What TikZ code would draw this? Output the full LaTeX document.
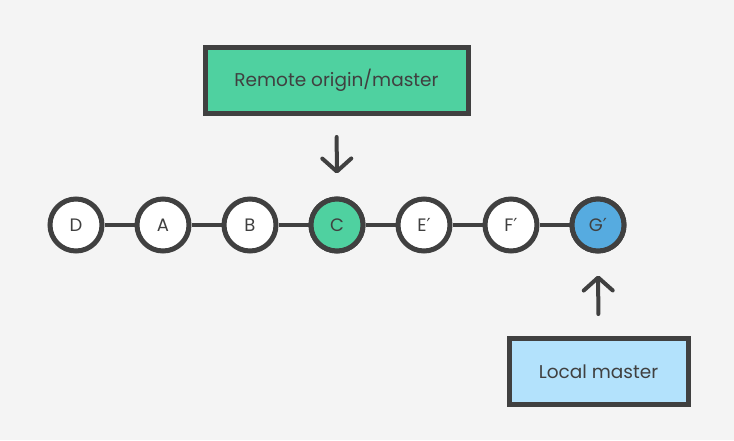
\documentclass[tikz,border=0pt]{standalone}
\usepackage{fontspec}
\setmainfont{Poppins}
\newfontfamily\primefont{DejaVu Sans}
\usetikzlibrary{arrows.meta}

\definecolor{bggray}{HTML}{F4F4F4}
\definecolor{ink}{HTML}{404040}
\definecolor{remotegreen}{HTML}{4FD1A0}
\definecolor{localblue}{HTML}{56ABE0}
\definecolor{paleblue}{HTML}{B3E2FC}

\newcommand{\pr}{{\primefont ′}}

\tikzset{
  commit/.style={circle, draw=ink, line width=5pt, fill=white, minimum size=52pt,
    inner sep=0pt, text=ink, font=\fontsize{18}{20}\selectfont},
  branchbox/.style={rectangle, draw=ink, line width=5pt, inner sep=0pt,
    minimum height=66pt, text=ink, font=\fontsize{18.5}{21}\selectfont},
  link/.style={draw=ink, line width=4.5pt},
  pointer/.style={draw=ink, line width=4pt, line cap=round,
    -{Straight Barb[length=13pt, width=29pt, line cap=round, line join=round]}},
}

\begin{document}
\begin{tikzpicture}[x=1pt, y=1pt]
        \fill[bggray] (0,0) rectangle (734,440);

        % commits
        \foreach \name/\lbl/\x in {D/D/76, A/A/163, B/B/250, C/C/337, E/E\pr/424, F/F\pr/511, G/G\pr/598}
            { \node[commit] (\name) at (\x, 215) {\lbl}; }
        \node[commit, fill=remotegreen] at (C) {C};
        \node[commit, fill=localblue] at (G) {G\pr};

        \draw[link] (D) -- (A) -- (B) -- (C) -- (E) -- (F) -- (G);

        % branch labels
        \node[branchbox, fill=remotegreen, minimum width=263pt] (remote) at (336.5, 359.5) {Remote origin/master};
        \node[branchbox, fill=paleblue, minimum width=179pt] (local) at (598.5, 68.5) {Local master};

        \draw[pointer, shorten <=21pt, shorten >=23pt] (remote) -- (C);
        \draw[pointer, shorten <=22pt, shorten >=22pt] (local) -- (G);
    \end{tikzpicture}
\end{document}
